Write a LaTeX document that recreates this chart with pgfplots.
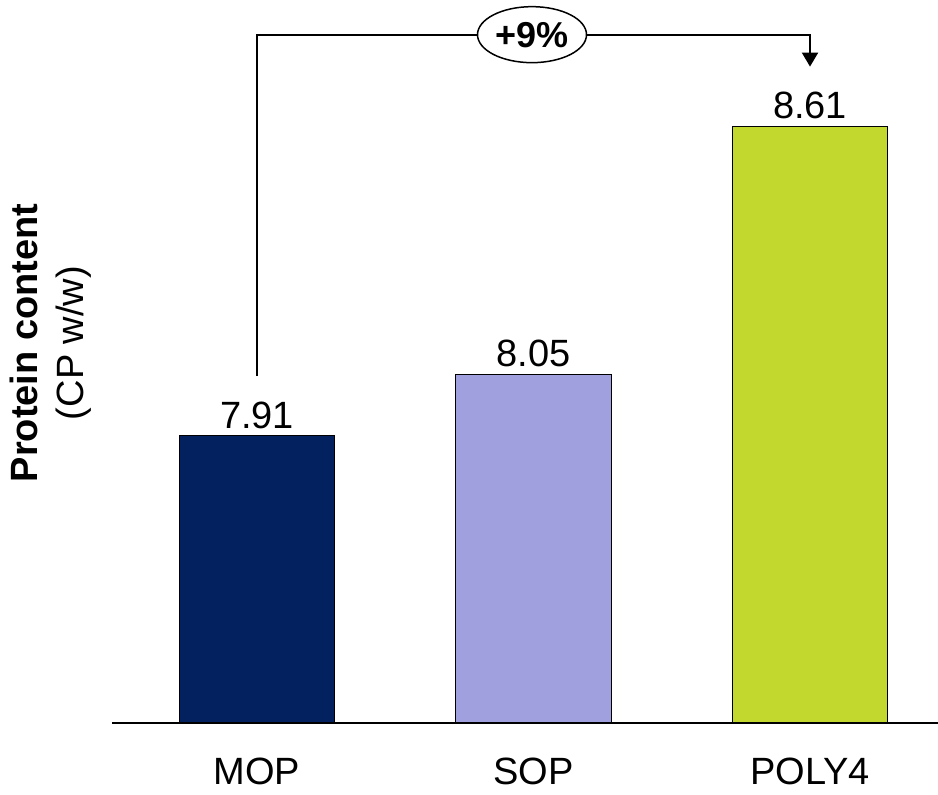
\documentclass[border=0pt]{standalone}
\usepackage{pgfplots}
\pgfplotsset{compat=1.18}
\usepackage{fontspec}
\setmainfont{Liberation Sans}
\usetikzlibrary{arrows.meta,shapes.geometric}

\definecolor{mopblue}{RGB}{2,33,94}
\definecolor{soplilac}{RGB}{161,160,222}
\definecolor{polygreen}{RGB}{195,216,46}

\newcommand{\labelfont}{\fontsize{19}{23}\selectfont}

\begin{document}
\begin{tikzpicture}
\useasboundingbox (-56pt,-36pt) rectangle (413pt,361.5pt);
\begin{axis}[
  at={(0,0)}, anchor=south west,
  scale only axis, width=413pt, height=361.5pt,
  xmin=-0.5244, xmax=2.4629, ymin=7.2609, ymax=8.8961,
  axis x line*=bottom, axis y line=none,
  axis line style={line width=1pt},
  xtick={0,1,2}, xticklabels={MOP,SOP,POLY4},
  major tick length=0pt, ytick=\empty,
  ybar, bar width=0.564, bar shift=0pt,
  tick label style={font=\labelfont},
  xticklabel style={yshift=-14pt},
  nodes near coords,
  every node near coord/.append style={font=\labelfont, black},
  /pgf/number format/.cd, fixed, fixed zerofill, precision=2, assume math mode=true,
]
\addplot[fill=mopblue, draw=black, line width=0.5pt] coordinates {(0,7.91)};
\addplot[fill=soplilac, draw=black, line width=0.5pt] coordinates {(1,8.05)};
\addplot[fill=polygreen, draw=black, line width=0.5pt] coordinates {(2,8.61)};

% change from MOP to POLY4
\draw[line width=1pt, -{Triangle[width=8pt,length=7pt]}]
  (axis cs:0,8.0455) |- (axis cs:2,8.8177) -- (axis cs:2,8.7454);
\node[ellipse, draw, line width=0.75pt, fill=white, minimum width=54.5pt,
      minimum height=28pt, inner sep=0pt, font=\fontsize{18}{21}\selectfont\bfseries]
  at (axis cs:0.9946,8.8177) {+9\%};
\end{axis}
\node[rotate=90, align=center, font=\labelfont] at (-30.5pt,190pt)
  {\textbf{Protein content}\\(CP w/w)};
\end{tikzpicture}
\end{document}
